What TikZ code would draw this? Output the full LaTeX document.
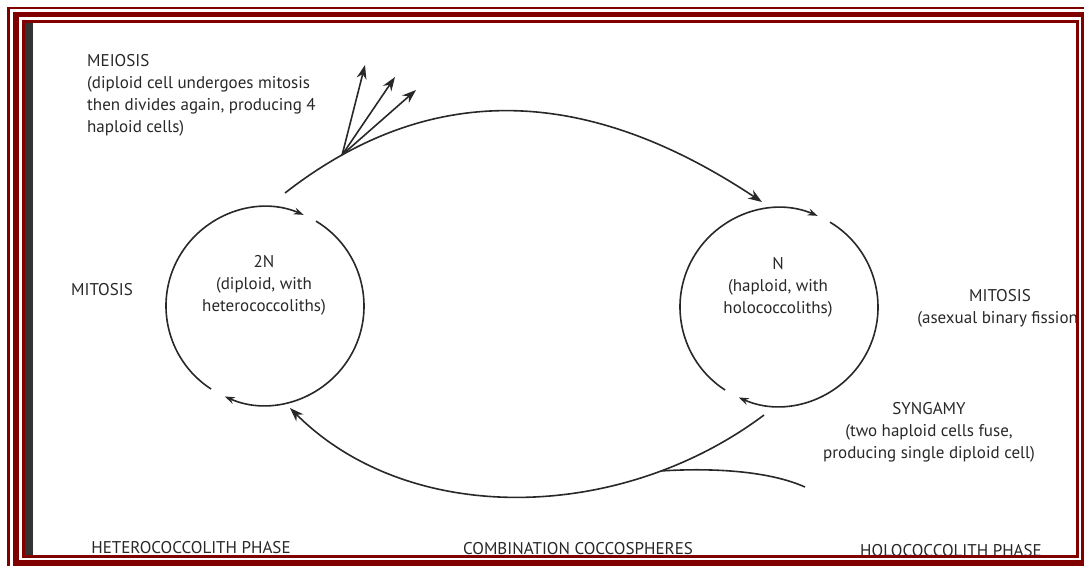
\documentclass[tikz,border=0pt]{standalone}
\usepackage{fontspec}
\setmainfont{PT Sans}
\usepackage{tikz}
\usetikzlibrary{calc}
\usetikzlibrary{arrows.meta}
\definecolor{framered}{RGB}{128,0,0}
\definecolor{ink}{RGB}{40,40,40}
\tikzset{
  cycleline/.style={draw=ink, line width=1.6pt, -{Stealth[length=10pt,width=7pt]}},
  bigarrow/.style={draw=ink, line width=1.6pt, -{Stealth[length=14pt,width=10pt]}},
  textlabel/.style={text=ink, font=\fontsize{17}{22}\selectfont, inner sep=0pt, align=center}
}
\newcommand{\frameline}[5]{ \draw[framered, line width=#5] ( #1 , #2 ) rectangle ( #3 , #4 );}
\newcommand{\phasecircle}[3]{
  \coordinate (#1) at ( #2 , #3 );
  \draw[cycleline] ($(#1)+(237:99)$) arc[start angle=237, end angle=67, radius=99];
  \draw[cycleline] ($(#1)+(59:99)$) arc[start angle=59, end angle=-114, radius=99];}

\begin{document}
\begin{tikzpicture}[x=1pt,y=1pt]
        \useasboundingbox (0,0) rectangle (1084,-565);
        \clip (0,0) rectangle (1084,-565);
        % scan edge
        \fill[black!80] (25,-23) rectangle (33,-555);

        % circles
        \phasecircle{dip}{265}{-306}
        \phasecircle{hap}{779}{-307}

        \begin{scope}
        \clip (25,-23) rectangle (1075.5,-555);
        % circle labels
        \node[textlabel] (diptext) at (264,-285) {2N\\(diploid, with\\heterococcoliths)};
        \node[textlabel] (haptext) at (778,-287) {N\\(haploid, with\\holococcoliths)};

        % side labels
        \node[textlabel, align=left, anchor=west] (meiosis) at (87,-95) {MEIOSIS\\ (diploid cell undergoes mitosis\\then divides again, producing 4\\haploid cells)};
        \node[textlabel] (mitosisdip) at (102,-290) {MITOSIS};
        \node[textlabel] (mitosishap) at (1000,-308) {MITOSIS\\(asexual binary fission)};
        \node[textlabel] (syngamy) at (929,-432) {SYNGAMY\\(two haploid cells fuse,\\producing single diploid cell)};

        % phase labels
        \node[textlabel] (heterophase) at (191,-548) {HETEROCOCCOLITH PHASE};
        \node[textlabel] (combiphase) at (578,-549) {COMBINATION COCCOSPHERES};
        \node[textlabel] (holophase) at (951,-551) {HOLOCOCCOLITH PHASE};
        \end{scope}

        % meiosis arc
        \coordinate (meistart) at (285,-193);
        \coordinate (meiend) at (762,-202);
        \draw[bigarrow] (meistart) .. controls (430,-80) and (586,-85) .. (meiend) coordinate[pos=0.13] (split);
        \coordinate (cellA) at (365,-65);
        \coordinate (cellB) at (395,-77);
        \coordinate (cellC) at (416,-90);
        \draw[bigarrow] (split) -- (cellA);
        \draw[bigarrow] (split) -- (cellB);
        \draw[bigarrow] (split) -- (cellC);

        % syngamy arc
        \coordinate (synstart) at (764,-415);
        \coordinate (synend) at (290,-408);
        \draw[bigarrow] (synstart) .. controls (620,-523) and (409,-527) .. (synend) coordinate[pos=0.22] (join);
        \coordinate (tail) at (805,-487);
        \draw[draw=ink, line width=1.6pt] (join) .. controls (690,-469) and (760,-467) .. (tail);

        % frame
        \frameline{23.5}{-21.5}{1077}{-556.5}{3pt}
        \frameline{16}{-14.5}{1083.5}{-563}{5.5pt}
        \frameline{8.5}{-8}{1091}{-571}{2.5pt}
\end{tikzpicture}
\end{document}
